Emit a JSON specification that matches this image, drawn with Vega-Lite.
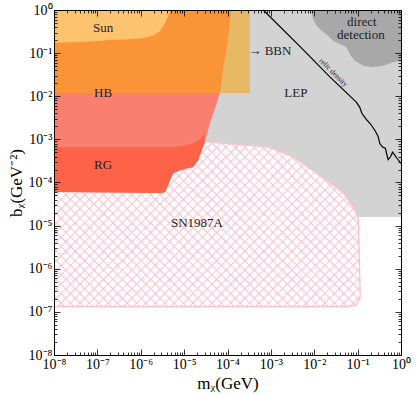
{
"$schema": "https://vega.github.io/schema/vega-lite/v6.json",
"width": 347, "height": 345,
"autosize": "none",
"padding": {"left": 54, "top": 10, "right": 15, "bottom": 40},
"background": "white",
"config": {"view": {"stroke": null}},
"datasets": {
"lep": [{"x": 1e-8, "x2": 1, "y": 1.585e-5, "y2": 1}],
"bbn": [{"x": 1e-5, "x2": 3.28e-4, "y": 1.19e-2, "y2": 1}],
"direct": [{"x":8.67e-3,"y":1},{"x":9.44e-3,"y":0.625},{"x":1.13e-2,"y":0.438},{"x":1.47e-2,"y":0.335},{"x":2.09e-2,"y":0.257},{"x":2.72e-2,"y":0.197},{"x":3.89e-2,"y":0.165},{"x":5.55e-2,"y":0.138},{"x":6.61e-2,"y":9.69e-2},{"x":8.61e-2,"y":6.78e-2},{"x":0.134,"y":5.19e-2},{"x":0.209,"y":4.74e-2},{"x":0.387,"y":5.19e-2},{"x":0.658,"y":6.19e-2},{"x":1,"y":6.78e-2},{"x":1,"y":1}],
"sn": [{"x":1e-8,"y":8.71e-4},{"x":3.30e-5,"y":8.71e-4},{"x":9.53e-5,"y":8.00e-4},{"x":8.53e-4,"y":6.67e-4},{"x":3.27e-3,"y":3.92e-4},{"x":7.93e-3,"y":2.11e-4},{"x":1.92e-2,"y":1.13e-4},{"x":4.63e-2,"y":5.81e-5},{"x":7.87e-2,"y":2.72e-5},{"x":0.103,"y":1.47e-5},{"x":0.108,"y":3.23e-6},{"x":0.115,"y":2.25e-7},{"x":9.44e-2,"y":1.44e-7},{"x":5.55e-2,"y":1.32e-7},{"x":1e-8,"y":1.32e-7}],
"salmon": [{"x":1e-8,"y":6.05e-5},{"x":3.32e-7,"y":5.90e-5},{"x":2.77e-6,"y":5.74e-5},{"x":3.61e-6,"y":5.96e-5},{"x":3.95e-6,"y":7.26e-5},{"x":4.71e-6,"y":1.13e-4},{"x":5.61e-6,"y":1.61e-4},{"x":8.00e-6,"y":1.93e-4},{"x":1.14e-5,"y":2.11e-4},{"x":1.62e-5,"y":2.30e-4},{"x":2.11e-5,"y":3.28e-4},{"x":2.53e-5,"y":5.60e-4},{"x":3.01e-5,"y":8.71e-4},{"x":3.40e-5,"y":1.36e-3},{"x":3.93e-5,"y":2.32e-3},{"x":4.69e-5,"y":3.95e-3},{"x":5.61e-5,"y":6.75e-3},{"x":6.68e-5,"y":1.19e-2},{"x":7.96e-5,"y":4.74e-2},{"x":9.84e-5,"y":0.165},{"x":1.14e-4,"y":0.571},{"x":1.20e-4,"y":1},{"x":1e-8,"y":1}],
"red": [{"x":1e-8,"y":6.05e-5},{"x":3.32e-7,"y":5.90e-5},{"x":2.77e-6,"y":5.74e-5},{"x":3.61e-6,"y":5.96e-5},{"x":3.95e-6,"y":7.26e-5},{"x":4.71e-6,"y":1.13e-4},{"x":5.61e-6,"y":1.61e-4},{"x":8.00e-6,"y":1.93e-4},{"x":1.14e-5,"y":2.11e-4},{"x":1.62e-5,"y":2.30e-4},{"x":2.11e-5,"y":3.28e-4},{"x":2.53e-5,"y":5.60e-4},{"x":2.94e-5,"y":8.13e-4},{"x":2.94e-5,"y":1.54e-3},{"x":2.71e-5,"y":1.245e-3},{"x":2.31e-5,"y":1.00e-3},{"x":1.87e-5,"y":8.79e-4},{"x":1.36e-5,"y":7.71e-4},{"x":9.53e-6,"y":7.11e-4},{"x":6.14e-6,"y":6.67e-4},{"x":1e-8,"y":6.67e-4}],
"orange": [{"x":1e-8,"y":1.19e-2},{"x":6.68e-5,"y":1.19e-2},{"x":7.96e-5,"y":4.74e-2},{"x":9.84e-5,"y":0.165},{"x":1.14e-4,"y":0.571},{"x":1.20e-4,"y":1},{"x":1e-8,"y":1}],
"sun": [{"x":1e-8,"y":0.174},{"x":4.73e-8,"y":0.180},{"x":1.15e-7,"y":0.190},{"x":1.95e-7,"y":0.204},{"x":4.73e-7,"y":0.208},{"x":1.14e-6,"y":0.222},{"x":1.94e-6,"y":0.257},{"x":2.77e-6,"y":0.323},{"x":3.61e-6,"y":0.480},{"x":4.31e-6,"y":0.746},{"x":4.89e-6,"y":1},{"x":1e-8,"y":1}],
"relic": [{"x":6.65e-4,"y":1},{"x":4.66e-3,"y":0.143},{"x":2.29e-2,"y":2.81e-2},{"x":9.44e-2,"y":7.23e-3},{"x":0.112,"y":5.53e-3},{"x":0.125,"y":4.02e-3},{"x":0.155,"y":3.00e-3},{"x":0.201,"y":2.24e-3},{"x":0.249,"y":1.63e-3},{"x":0.296,"y":1.18e-3},{"x":0.325,"y":8.00e-4},{"x":0.375,"y":6.67e-4},{"x":0.435,"y":6.22e-4},{"x":0.505,"y":3.37e-4},{"x":0.573,"y":3.95e-4},{"x":0.637,"y":5.02e-4},{"x":0.719,"y":4.29e-4},{"x":0.813,"y":3.60e-4},{"x":0.937,"y":3.00e-4},{"x":1,"y":2.80e-4}],
"labels": [{"x":1.35e-7,"y":0.373,"t":"Sun"},{"x":1.35e-7,"y":1.17e-2,"t":"HB"},{"x":1.35e-7,"y":2.51e-4,"t":"RG"},{"x":1.97e-5,"y":1.14e-5,"t":"SN1987A"},{"x":3.77e-3,"y":1.17e-2,"t":"LEP"},{"x":9.48e-4,"y":0.115,"t":"→ BBN"},{"x":0.125,"y":0.514,"t":"direct"},{"x":0.119,"y":0.257,"t":"detection"}],
"relictext": [{"x":2.75e-2,"y":3.5e-2,"t":"relic density"}]
},
"encoding": {
"x": {"field": "x", "type": "quantitative", "scale": {"type": "log", "domain": [1e-8, 1], "nice": false}, "axis": null},
"y": {"field": "y", "type": "quantitative", "scale": {"type": "log", "domain": [1e-8, 1], "nice": false}, "axis": null}
},
"layer": [
{"data": {"name": "lep"}, "mark": {"type": "rect", "color": "#d3d3d3"},
 "encoding": {
  "x": {"field": "x", "type": "quantitative", "scale": {"type": "log", "domain": [1e-8, 1], "nice": false},
   "axis": {"orient": "bottom", "values": [1e-8,2e-8,3e-8,4e-8,5e-8,6e-8,7e-8,8e-8,9e-8,1e-7,2e-7,3e-7,4e-7,5e-7,6e-7,7e-7,8e-7,9e-7,1e-6,2e-6,3e-6,4e-6,5e-6,6e-6,7e-6,8e-6,9e-6,1e-5,2e-5,3e-5,4e-5,5e-5,6e-5,7e-5,8e-5,9e-5,0.0001,0.0002,0.0003,0.0004,0.0005,0.0006,0.0007,0.0008,0.0009,0.001,0.002,0.003,0.004,0.005,0.006,0.007,0.008,0.009,0.01,0.02,0.03,0.04,0.05,0.06,0.07,0.08,0.09,0.1,0.2,0.3,0.4,0.5,0.6,0.7,0.8,0.9,1],
    "tickSize": {"condition": {"test": "abs(log(datum.value)/LN10-round(log(datum.value)/LN10))<0.001", "value": -6}, "value": -3},
    "tickColor": "black", "tickWidth": 0.8, "domainColor": "black", "domainWidth": 1,
    "labelExpr": "abs(log(datum.value)/LN10-round(log(datum.value)/LN10))<0.001 ? '10' + (round(log(datum.value)/LN10) < 0 ? '⁻' : '') + ['⁰','¹','²','³','⁴','⁵','⁶','⁷','⁸','⁹'][abs(round(log(datum.value)/LN10))] : ''",
    "labelFont": "Liberation Serif", "labelFontSize": 14, "labelColor": "black", "labelPadding": 8,
    "labelOverlap": false, "labelFlush": false, "labelBound": false,
    "title": "mᵪ(GeV)", "titleFont": "Liberation Serif", "titleFontSize": 17, "titleFontWeight": "normal", "titleColor": "black", "titlePadding": 1,
    "grid": false, "zindex": 1}},
  "x2": {"field": "x2"},
  "y": {"field": "y", "type": "quantitative", "scale": {"type": "log", "domain": [1e-8, 1], "nice": false},
   "axis": {"orient": "left", "values": [1e-8,2e-8,3e-8,4e-8,5e-8,6e-8,7e-8,8e-8,9e-8,1e-7,2e-7,3e-7,4e-7,5e-7,6e-7,7e-7,8e-7,9e-7,1e-6,2e-6,3e-6,4e-6,5e-6,6e-6,7e-6,8e-6,9e-6,1e-5,2e-5,3e-5,4e-5,5e-5,6e-5,7e-5,8e-5,9e-5,0.0001,0.0002,0.0003,0.0004,0.0005,0.0006,0.0007,0.0008,0.0009,0.001,0.002,0.003,0.004,0.005,0.006,0.007,0.008,0.009,0.01,0.02,0.03,0.04,0.05,0.06,0.07,0.08,0.09,0.1,0.2,0.3,0.4,0.5,0.6,0.7,0.8,0.9,1],
    "tickSize": {"condition": {"test": "abs(log(datum.value)/LN10-round(log(datum.value)/LN10))<0.001", "value": -6}, "value": -3},
    "tickColor": "black", "tickWidth": 0.8, "domainColor": "black", "domainWidth": 1,
    "labelExpr": "abs(log(datum.value)/LN10-round(log(datum.value)/LN10))<0.001 ? '10' + (round(log(datum.value)/LN10) < 0 ? '⁻' : '') + ['⁰','¹','²','³','⁴','⁵','⁶','⁷','⁸','⁹'][abs(round(log(datum.value)/LN10))] : ''",
    "labelFont": "Liberation Serif", "labelFontSize": 14, "labelColor": "black", "labelPadding": 8,
    "labelOverlap": false, "labelFlush": false, "labelBound": false,
    "title": "bᵪ(GeV⁻²)", "titleFont": "Liberation Serif", "titleFontSize": 17, "titleFontWeight": "normal", "titleColor": "black", "titlePadding": 3,
    "grid": false, "zindex": 1}},
  "y2": {"field": "y2"}
 }},
{"data": {"name": "bbn"}, "mark": {"type": "rect", "color": "#e7b965"},
 "encoding": {
  "x": {"field": "x", "type": "quantitative", "scale": {"type": "log", "domain": [1e-8, 1], "nice": false},
   "axis": {"orient": "top", "values": [1e-8,2e-8,3e-8,4e-8,5e-8,6e-8,7e-8,8e-8,9e-8,1e-7,2e-7,3e-7,4e-7,5e-7,6e-7,7e-7,8e-7,9e-7,1e-6,2e-6,3e-6,4e-6,5e-6,6e-6,7e-6,8e-6,9e-6,1e-5,2e-5,3e-5,4e-5,5e-5,6e-5,7e-5,8e-5,9e-5,0.0001,0.0002,0.0003,0.0004,0.0005,0.0006,0.0007,0.0008,0.0009,0.001,0.002,0.003,0.004,0.005,0.006,0.007,0.008,0.009,0.01,0.02,0.03,0.04,0.05,0.06,0.07,0.08,0.09,0.1,0.2,0.3,0.4,0.5,0.6,0.7,0.8,0.9,1],
    "tickSize": {"condition": {"test": "abs(log(datum.value)/LN10-round(log(datum.value)/LN10))<0.001", "value": -6}, "value": -3},
    "tickColor": "black", "tickWidth": 0.8, "domainColor": "black", "domainWidth": 1,
    "labels": false, "title": null, "grid": false, "zindex": 1}},
  "x2": {"field": "x2"},
  "y": {"field": "y", "type": "quantitative", "scale": {"type": "log", "domain": [1e-8, 1], "nice": false},
   "axis": {"orient": "right", "values": [1e-8,2e-8,3e-8,4e-8,5e-8,6e-8,7e-8,8e-8,9e-8,1e-7,2e-7,3e-7,4e-7,5e-7,6e-7,7e-7,8e-7,9e-7,1e-6,2e-6,3e-6,4e-6,5e-6,6e-6,7e-6,8e-6,9e-6,1e-5,2e-5,3e-5,4e-5,5e-5,6e-5,7e-5,8e-5,9e-5,0.0001,0.0002,0.0003,0.0004,0.0005,0.0006,0.0007,0.0008,0.0009,0.001,0.002,0.003,0.004,0.005,0.006,0.007,0.008,0.009,0.01,0.02,0.03,0.04,0.05,0.06,0.07,0.08,0.09,0.1,0.2,0.3,0.4,0.5,0.6,0.7,0.8,0.9,1],
    "tickSize": {"condition": {"test": "abs(log(datum.value)/LN10-round(log(datum.value)/LN10))<0.001", "value": -6}, "value": -3},
    "tickColor": "black", "tickWidth": 0.8, "domainColor": "black", "domainWidth": 1,
    "labels": false, "title": null, "grid": false, "zindex": 1}},
  "y2": {"field": "y2"}
 }},
{"data": {"name": "direct"}, "mark": {"type": "line", "fill": "#a8a8a8", "stroke": "#a8a8a8", "strokeWidth": 0.5}, "encoding": {"order": {"value": null}}},
{"data": {"name": "sn"}, "mark": {"type": "line", "stroke": null, "strokeWidth": 0,
 "fill": {"gradient": "linear", "x1": 0, "y1": 0, "x2": 1.193, "y2": 0.642, "stops": [
{"offset":0,"color":"#fff"},{"offset":0.014,"color":"#fff"},{"offset":0.017,"color":"#ffc0cb"},
{"offset":0.02,"color":"#fff"},{"offset":0.034,"color":"#fff"},{"offset":0.037,"color":"#ffc0cb"},
{"offset":0.04,"color":"#fff"},{"offset":0.054,"color":"#fff"},{"offset":0.057,"color":"#ffc0cb"},
{"offset":0.06,"color":"#fff"},{"offset":0.074,"color":"#fff"},{"offset":0.077,"color":"#ffc0cb"},
{"offset":0.08,"color":"#fff"},{"offset":0.094,"color":"#fff"},{"offset":0.097,"color":"#ffc0cb"},
{"offset":0.1,"color":"#fff"},{"offset":0.114,"color":"#fff"},{"offset":0.117,"color":"#ffc0cb"},
{"offset":0.12,"color":"#fff"},{"offset":0.134,"color":"#fff"},{"offset":0.137,"color":"#ffc0cb"},
{"offset":0.14,"color":"#fff"},{"offset":0.154,"color":"#fff"},{"offset":0.157,"color":"#ffc0cb"},
{"offset":0.16,"color":"#fff"},{"offset":0.174,"color":"#fff"},{"offset":0.177,"color":"#ffc0cb"},
{"offset":0.18,"color":"#fff"},{"offset":0.194,"color":"#fff"},{"offset":0.197,"color":"#ffc0cb"},
{"offset":0.2,"color":"#fff"},{"offset":0.214,"color":"#fff"},{"offset":0.217,"color":"#ffc0cb"},
{"offset":0.22,"color":"#fff"},{"offset":0.234,"color":"#fff"},{"offset":0.237,"color":"#ffc0cb"},
{"offset":0.24,"color":"#fff"},{"offset":0.254,"color":"#fff"},{"offset":0.257,"color":"#ffc0cb"},
{"offset":0.26,"color":"#fff"},{"offset":0.274,"color":"#fff"},{"offset":0.277,"color":"#ffc0cb"},
{"offset":0.28,"color":"#fff"},{"offset":0.294,"color":"#fff"},{"offset":0.297,"color":"#ffc0cb"},
{"offset":0.3,"color":"#fff"},{"offset":0.314,"color":"#fff"},{"offset":0.317,"color":"#ffc0cb"},
{"offset":0.32,"color":"#fff"},{"offset":0.334,"color":"#fff"},{"offset":0.337,"color":"#ffc0cb"},
{"offset":0.34,"color":"#fff"},{"offset":0.354,"color":"#fff"},{"offset":0.357,"color":"#ffc0cb"},
{"offset":0.36,"color":"#fff"},{"offset":0.374,"color":"#fff"},{"offset":0.377,"color":"#ffc0cb"},
{"offset":0.38,"color":"#fff"},{"offset":0.394,"color":"#fff"},{"offset":0.397,"color":"#ffc0cb"},
{"offset":0.4,"color":"#fff"},{"offset":0.414,"color":"#fff"},{"offset":0.417,"color":"#ffc0cb"},
{"offset":0.42,"color":"#fff"},{"offset":0.434,"color":"#fff"},{"offset":0.437,"color":"#ffc0cb"},
{"offset":0.44,"color":"#fff"},{"offset":0.454,"color":"#fff"},{"offset":0.457,"color":"#ffc0cb"},
{"offset":0.46,"color":"#fff"},{"offset":0.474,"color":"#fff"},{"offset":0.477,"color":"#ffc0cb"},
{"offset":0.48,"color":"#fff"},{"offset":0.494,"color":"#fff"},{"offset":0.497,"color":"#ffc0cb"},
{"offset":0.5,"color":"#fff"},{"offset":0.514,"color":"#fff"},{"offset":0.517,"color":"#ffc0cb"},
{"offset":0.52,"color":"#fff"},{"offset":0.534,"color":"#fff"},{"offset":0.537,"color":"#ffc0cb"},
{"offset":0.54,"color":"#fff"},{"offset":0.554,"color":"#fff"},{"offset":0.557,"color":"#ffc0cb"},
{"offset":0.56,"color":"#fff"},{"offset":0.574,"color":"#fff"},{"offset":0.577,"color":"#ffc0cb"},
{"offset":0.58,"color":"#fff"},{"offset":0.594,"color":"#fff"},{"offset":0.597,"color":"#ffc0cb"},
{"offset":0.6,"color":"#fff"},{"offset":0.614,"color":"#fff"},{"offset":0.617,"color":"#ffc0cb"},
{"offset":0.62,"color":"#fff"},{"offset":0.634,"color":"#fff"},{"offset":0.637,"color":"#ffc0cb"},
{"offset":0.64,"color":"#fff"},{"offset":0.654,"color":"#fff"},{"offset":0.657,"color":"#ffc0cb"},
{"offset":0.66,"color":"#fff"},{"offset":0.674,"color":"#fff"},{"offset":0.677,"color":"#ffc0cb"},
{"offset":0.68,"color":"#fff"},{"offset":0.694,"color":"#fff"},{"offset":0.697,"color":"#ffc0cb"},
{"offset":0.7,"color":"#fff"},{"offset":0.714,"color":"#fff"},{"offset":0.717,"color":"#ffc0cb"},
{"offset":0.72,"color":"#fff"},{"offset":0.734,"color":"#fff"},{"offset":0.737,"color":"#ffc0cb"},
{"offset":0.74,"color":"#fff"},{"offset":0.754,"color":"#fff"},{"offset":0.757,"color":"#ffc0cb"},
{"offset":0.76,"color":"#fff"},{"offset":0.774,"color":"#fff"},{"offset":0.777,"color":"#ffc0cb"},
{"offset":0.78,"color":"#fff"},{"offset":0.794,"color":"#fff"},{"offset":0.797,"color":"#ffc0cb"},
{"offset":0.8,"color":"#fff"},{"offset":0.814,"color":"#fff"},{"offset":0.817,"color":"#ffc0cb"},
{"offset":0.82,"color":"#fff"},{"offset":0.834,"color":"#fff"},{"offset":0.837,"color":"#ffc0cb"},
{"offset":0.84,"color":"#fff"},{"offset":0.854,"color":"#fff"},{"offset":0.857,"color":"#ffc0cb"},
{"offset":0.86,"color":"#fff"},{"offset":0.874,"color":"#fff"},{"offset":0.877,"color":"#ffc0cb"},
{"offset":0.88,"color":"#fff"},{"offset":0.894,"color":"#fff"},{"offset":0.897,"color":"#ffc0cb"},
{"offset":0.9,"color":"#fff"},{"offset":0.914,"color":"#fff"},{"offset":0.917,"color":"#ffc0cb"},
{"offset":0.92,"color":"#fff"},{"offset":0.934,"color":"#fff"},{"offset":0.937,"color":"#ffc0cb"},
{"offset":0.94,"color":"#fff"},{"offset":0.954,"color":"#fff"},{"offset":0.957,"color":"#ffc0cb"},
{"offset":0.96,"color":"#fff"},{"offset":0.974,"color":"#fff"},{"offset":0.977,"color":"#ffc0cb"},
{"offset":0.98,"color":"#fff"},{"offset":0.994,"color":"#fff"},{"offset":0.997,"color":"#ffc0cb"},
{"offset":1,"color":"#fff"}]}}, "encoding": {"order": {"value": null}}},
{"data": {"name": "sn"}, "mark": {"type": "line", "stroke": "#ffc0cb", "strokeWidth": 1.3,
 "fill": {"gradient": "linear", "x1": 1, "y1": 0, "x2": -0.193, "y2": 0.642, "stops": [
{"offset":0,"color":"#ffc0cb00"},{"offset":0.014,"color":"#ffc0cb00"},{"offset":0.017,"color":"#ffc0cb"},
{"offset":0.02,"color":"#ffc0cb00"},{"offset":0.034,"color":"#ffc0cb00"},{"offset":0.037,"color":"#ffc0cb"},
{"offset":0.04,"color":"#ffc0cb00"},{"offset":0.054,"color":"#ffc0cb00"},{"offset":0.057,"color":"#ffc0cb"},
{"offset":0.06,"color":"#ffc0cb00"},{"offset":0.074,"color":"#ffc0cb00"},{"offset":0.077,"color":"#ffc0cb"},
{"offset":0.08,"color":"#ffc0cb00"},{"offset":0.094,"color":"#ffc0cb00"},{"offset":0.097,"color":"#ffc0cb"},
{"offset":0.1,"color":"#ffc0cb00"},{"offset":0.114,"color":"#ffc0cb00"},{"offset":0.117,"color":"#ffc0cb"},
{"offset":0.12,"color":"#ffc0cb00"},{"offset":0.134,"color":"#ffc0cb00"},{"offset":0.137,"color":"#ffc0cb"},
{"offset":0.14,"color":"#ffc0cb00"},{"offset":0.154,"color":"#ffc0cb00"},{"offset":0.157,"color":"#ffc0cb"},
{"offset":0.16,"color":"#ffc0cb00"},{"offset":0.174,"color":"#ffc0cb00"},{"offset":0.177,"color":"#ffc0cb"},
{"offset":0.18,"color":"#ffc0cb00"},{"offset":0.194,"color":"#ffc0cb00"},{"offset":0.197,"color":"#ffc0cb"},
{"offset":0.2,"color":"#ffc0cb00"},{"offset":0.214,"color":"#ffc0cb00"},{"offset":0.217,"color":"#ffc0cb"},
{"offset":0.22,"color":"#ffc0cb00"},{"offset":0.234,"color":"#ffc0cb00"},{"offset":0.237,"color":"#ffc0cb"},
{"offset":0.24,"color":"#ffc0cb00"},{"offset":0.254,"color":"#ffc0cb00"},{"offset":0.257,"color":"#ffc0cb"},
{"offset":0.26,"color":"#ffc0cb00"},{"offset":0.274,"color":"#ffc0cb00"},{"offset":0.277,"color":"#ffc0cb"},
{"offset":0.28,"color":"#ffc0cb00"},{"offset":0.294,"color":"#ffc0cb00"},{"offset":0.297,"color":"#ffc0cb"},
{"offset":0.3,"color":"#ffc0cb00"},{"offset":0.314,"color":"#ffc0cb00"},{"offset":0.317,"color":"#ffc0cb"},
{"offset":0.32,"color":"#ffc0cb00"},{"offset":0.334,"color":"#ffc0cb00"},{"offset":0.337,"color":"#ffc0cb"},
{"offset":0.34,"color":"#ffc0cb00"},{"offset":0.354,"color":"#ffc0cb00"},{"offset":0.357,"color":"#ffc0cb"},
{"offset":0.36,"color":"#ffc0cb00"},{"offset":0.374,"color":"#ffc0cb00"},{"offset":0.377,"color":"#ffc0cb"},
{"offset":0.38,"color":"#ffc0cb00"},{"offset":0.394,"color":"#ffc0cb00"},{"offset":0.397,"color":"#ffc0cb"},
{"offset":0.4,"color":"#ffc0cb00"},{"offset":0.414,"color":"#ffc0cb00"},{"offset":0.417,"color":"#ffc0cb"},
{"offset":0.42,"color":"#ffc0cb00"},{"offset":0.434,"color":"#ffc0cb00"},{"offset":0.437,"color":"#ffc0cb"},
{"offset":0.44,"color":"#ffc0cb00"},{"offset":0.454,"color":"#ffc0cb00"},{"offset":0.457,"color":"#ffc0cb"},
{"offset":0.46,"color":"#ffc0cb00"},{"offset":0.474,"color":"#ffc0cb00"},{"offset":0.477,"color":"#ffc0cb"},
{"offset":0.48,"color":"#ffc0cb00"},{"offset":0.494,"color":"#ffc0cb00"},{"offset":0.497,"color":"#ffc0cb"},
{"offset":0.5,"color":"#ffc0cb00"},{"offset":0.514,"color":"#ffc0cb00"},{"offset":0.517,"color":"#ffc0cb"},
{"offset":0.52,"color":"#ffc0cb00"},{"offset":0.534,"color":"#ffc0cb00"},{"offset":0.537,"color":"#ffc0cb"},
{"offset":0.54,"color":"#ffc0cb00"},{"offset":0.554,"color":"#ffc0cb00"},{"offset":0.557,"color":"#ffc0cb"},
{"offset":0.56,"color":"#ffc0cb00"},{"offset":0.574,"color":"#ffc0cb00"},{"offset":0.577,"color":"#ffc0cb"},
{"offset":0.58,"color":"#ffc0cb00"},{"offset":0.594,"color":"#ffc0cb00"},{"offset":0.597,"color":"#ffc0cb"},
{"offset":0.6,"color":"#ffc0cb00"},{"offset":0.614,"color":"#ffc0cb00"},{"offset":0.617,"color":"#ffc0cb"},
{"offset":0.62,"color":"#ffc0cb00"},{"offset":0.634,"color":"#ffc0cb00"},{"offset":0.637,"color":"#ffc0cb"},
{"offset":0.64,"color":"#ffc0cb00"},{"offset":0.654,"color":"#ffc0cb00"},{"offset":0.657,"color":"#ffc0cb"},
{"offset":0.66,"color":"#ffc0cb00"},{"offset":0.674,"color":"#ffc0cb00"},{"offset":0.677,"color":"#ffc0cb"},
{"offset":0.68,"color":"#ffc0cb00"},{"offset":0.694,"color":"#ffc0cb00"},{"offset":0.697,"color":"#ffc0cb"},
{"offset":0.7,"color":"#ffc0cb00"},{"offset":0.714,"color":"#ffc0cb00"},{"offset":0.717,"color":"#ffc0cb"},
{"offset":0.72,"color":"#ffc0cb00"},{"offset":0.734,"color":"#ffc0cb00"},{"offset":0.737,"color":"#ffc0cb"},
{"offset":0.74,"color":"#ffc0cb00"},{"offset":0.754,"color":"#ffc0cb00"},{"offset":0.757,"color":"#ffc0cb"},
{"offset":0.76,"color":"#ffc0cb00"},{"offset":0.774,"color":"#ffc0cb00"},{"offset":0.777,"color":"#ffc0cb"},
{"offset":0.78,"color":"#ffc0cb00"},{"offset":0.794,"color":"#ffc0cb00"},{"offset":0.797,"color":"#ffc0cb"},
{"offset":0.8,"color":"#ffc0cb00"},{"offset":0.814,"color":"#ffc0cb00"},{"offset":0.817,"color":"#ffc0cb"},
{"offset":0.82,"color":"#ffc0cb00"},{"offset":0.834,"color":"#ffc0cb00"},{"offset":0.837,"color":"#ffc0cb"},
{"offset":0.84,"color":"#ffc0cb00"},{"offset":0.854,"color":"#ffc0cb00"},{"offset":0.857,"color":"#ffc0cb"},
{"offset":0.86,"color":"#ffc0cb00"},{"offset":0.874,"color":"#ffc0cb00"},{"offset":0.877,"color":"#ffc0cb"},
{"offset":0.88,"color":"#ffc0cb00"},{"offset":0.894,"color":"#ffc0cb00"},{"offset":0.897,"color":"#ffc0cb"},
{"offset":0.9,"color":"#ffc0cb00"},{"offset":0.914,"color":"#ffc0cb00"},{"offset":0.917,"color":"#ffc0cb"},
{"offset":0.92,"color":"#ffc0cb00"},{"offset":0.934,"color":"#ffc0cb00"},{"offset":0.937,"color":"#ffc0cb"},
{"offset":0.94,"color":"#ffc0cb00"},{"offset":0.954,"color":"#ffc0cb00"},{"offset":0.957,"color":"#ffc0cb"},
{"offset":0.96,"color":"#ffc0cb00"},{"offset":0.974,"color":"#ffc0cb00"},{"offset":0.977,"color":"#ffc0cb"},
{"offset":0.98,"color":"#ffc0cb00"},{"offset":0.994,"color":"#ffc0cb00"},{"offset":0.997,"color":"#ffc0cb"},
{"offset":1,"color":"#ffc0cb00"}]}}, "encoding": {"order": {"value": null}}},
{"data": {"name": "salmon"}, "mark": {"type": "line", "fill": "#f98071", "stroke": null, "strokeWidth": 0}, "encoding": {"order": {"value": null}}},
{"data": {"name": "orange"}, "mark": {"type": "line", "fill": "#fa9437", "stroke": null, "strokeWidth": 0}, "encoding": {"order": {"value": null}}},
{"data": {"name": "sun"}, "mark": {"type": "line", "fill": "#fec36f", "stroke": null, "strokeWidth": 0}, "encoding": {"order": {"value": null}}},
{"data": {"name": "red"}, "mark": {"type": "line", "fill": "#fe6347", "stroke": null, "strokeWidth": 0}, "encoding": {"order": {"value": null}}},
{"data": {"name": "relic"}, "mark": {"type": "line", "stroke": "black", "strokeWidth": 1.2}, "encoding": {"order": {"value": null}}},
{"data": {"name": "labels"}, "mark": {"type": "text", "font": "Liberation Serif", "fontSize": 13, "color": "#222"}, "encoding": {"text": {"field": "t"}}},
{"data": {"name": "relictext"}, "mark": {"type": "text", "font": "Liberation Serif", "fontSize": 7.5, "angle": 45, "color": "#222"}, "encoding": {"text": {"field": "t"}}}
],
"resolve": {"axis": {"x": "independent", "y": "independent"}}
}
